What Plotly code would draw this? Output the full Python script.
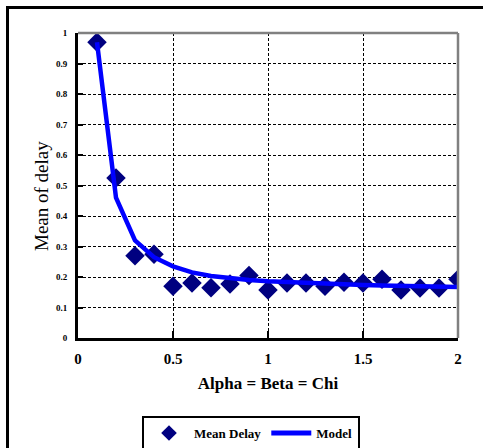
import plotly.graph_objects as go

x_vals = [0.1, 0.2, 0.3, 0.4, 0.5, 0.6, 0.7, 0.8, 0.9, 1.0,
          1.1, 1.2, 1.3, 1.4, 1.5, 1.6, 1.7, 1.8, 1.9, 2.0]
mean_delay = [0.97, 0.525, 0.27, 0.275, 0.17, 0.18, 0.165, 0.177, 0.205, 0.157,
              0.18, 0.18, 0.17, 0.183, 0.18, 0.193, 0.157, 0.164, 0.164, 0.193]
model = [0.97, 0.46, 0.32, 0.265, 0.235, 0.215, 0.203, 0.195, 0.19, 0.186,
         0.183, 0.18, 0.178, 0.176, 0.174, 0.172, 0.17, 0.169, 0.168, 0.167]

FONT = "Liberation Serif"
W, H = 483, 448
L, R, T, B = 78, 25, 33, 110
pw, ph = W - L - R, H - T - B

def px(xp):
    return (xp - L) / pw

def py(yp):
    return (H - B - yp) / ph

fig = go.Figure()
fig.add_trace(go.Scatter(x=x_vals, y=mean_delay, mode="markers", name="Mean Delay",
                         marker=dict(symbol="diamond", size=15, color="#000080",
                                     line=dict(width=0))))
fig.add_trace(go.Scatter(x=x_vals, y=model, mode="lines", name="Model",
                         line=dict(color="#0000FF", width=4.5)))

grid = dict(showgrid=True, gridcolor="black", gridwidth=1, griddash="3px,2px")
fig.update_xaxes(range=[0, 2], dtick=0.5, ticks="inside", ticklen=7,
                 tickwidth=2, tickcolor="black", showline=True, linecolor="black",
                 linewidth=3, zeroline=False,
                 tickfont=dict(family=FONT, size=15, color="black", weight="bold"),
                 ticklabelstandoff=5,
                 title=dict(text="Alpha = Beta = Chi", standoff=12,
                            font=dict(family=FONT, size=17, color="black", weight="bold")),
                 **grid)
fig.update_yaxes(range=[0, 1], dtick=0.1, ticks="inside", ticklen=5,
                 tickwidth=1.5, tickcolor="black", showline=True, linecolor="black",
                 linewidth=3, zeroline=False,
                 tickfont=dict(family=FONT, size=9, color="black", weight="bold"),
                 ticklabelstandoff=6,
                 **grid)

shapes = [
    dict(type="line", xref="paper", yref="paper", x0=0, x1=1, y0=1, y1=1,
         line=dict(color="#808080", width=2.5)),
    dict(type="line", xref="paper", yref="paper", x0=1, x1=1, y0=0, y1=1,
         line=dict(color="#808080", width=2.5)),
    dict(type="line", xref="paper", yref="paper", x0=px(7), x1=px(490), y0=py(7.5), y1=py(7.5),
         line=dict(color="black", width=3)),
    dict(type="line", xref="paper", yref="paper", x0=px(7.5), x1=px(7.5), y0=py(6), y1=py(460),
         line=dict(color="black", width=3)),
]

fig.update_layout(
    width=W, height=H, margin=dict(l=L, r=R, t=T, b=B, autoexpand=False),
    plot_bgcolor="white", paper_bgcolor="white", shapes=shapes,
    showlegend=True,
    legend=dict(orientation="h", x=px(251), xanchor="center", y=py(416), yanchor="top",
                bordercolor="black", borderwidth=2, bgcolor="white",
                font=dict(family=FONT, size=13, color="black", weight="bold"),
                itemwidth=40, tracegroupgap=0, valign="middle", itemsizing="constant"),
    annotations=[dict(text="Mean of delay", xref="paper", yref="paper",
                      x=px(41), y=py(196), textangle=-90, showarrow=False,
                      xanchor="center", yanchor="middle",
                      font=dict(family=FONT, size=19, color="black"))],
)

fig.write_html("out.html", config={"displayModeBar": False},
               post_script="document.body.style.margin='0';document.body.style.overflow='hidden';")
